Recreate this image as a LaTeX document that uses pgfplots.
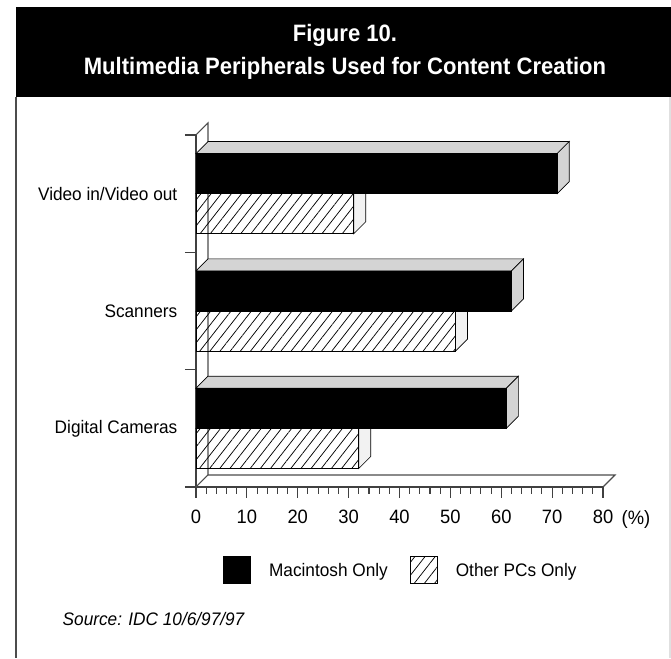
\documentclass[border=0pt]{standalone}
\usepackage{fontspec}
\setmainfont{Liberation Sans}
\newfontfamily\titlefont[FakeStretch=0.93]{Liberation Sans}
\newfontfamily\labelfont[FakeStretch=0.95]{Liberation Sans}
\usepackage{pgfplots}
\pgfplotsset{compat=1.18}
\usepackage{pgfplotstable}
\usetikzlibrary{patterns.meta}

% row = category position (0 = bottom)
\pgfplotstableread{
row mac other
0 61 32
1 62 51
2 71 31
}\datatable

\newcommand\lbl{\fontsize{13.6}{16}\labelfont}

% 3D top and side faces of one bar: value, top, bottom, fill
\newcommand\barfaces[4]{%
  \fill[#4, draw=black, line width=0.5pt] (axis cs:0,#2) -- (axis cs:#1,#2)
    -- ([shift={(9pt,9pt)}]axis cs:#1,#2) -- ([shift={(9pt,9pt)}]axis cs:0,#2) -- cycle;
  \fill[#4, draw=black, line width=0.5pt] (axis cs:#1,#2) -- ([shift={(9pt,9pt)}]axis cs:#1,#2)
    -- ([shift={(9pt,9pt)}]axis cs:#1,#3) -- (axis cs:#1,#3) -- cycle;
}

\begin{document}
\begin{tikzpicture}
% page frame, coordinates in pixels of the 671x658 figure
\begin{scope}[x=0.75pt,y=0.75pt]
\path (0,0) rectangle (671,658);
\fill[black] (16,561) rectangle (671,651);
\node[anchor=base, text=white, font={\fontsize{17.8}{20}\titlefont\bfseries}] at (345,616) {Figure 10.};
\node[anchor=base, text=white, font={\fontsize{17.8}{20}\titlefont\bfseries}] at (345,583) {Multimedia Peripherals Used for Content Creation};
\draw[black!70, line width=1.2pt] (16,561) -- (16,0);
\draw[black!12, line width=0.8pt] (670,561) -- (670,0);
\node[anchor=base west, font=\fontsize{14.5}{16}\labelfont] at (617,133) {(\%)};
\node[anchor=base west, font={\lbl\itshape}] at (58,32) {Source: IDC 10/6/97/97};
\end{scope}

\begin{axis}[
  at={(147pt,128.25pt)}, anchor=south west, scale only axis,
  width=305.25pt, height=264pt,
  xmin=0, xmax=80, ymin=-0.5, ymax=2.5,
  axis lines*=left,
  axis line style={black!75, line width=1pt},
  xtick={0,10,...,80}, minor x tick num=4,
  tick align=outside,
  major tick length=8.25pt, minor tick length=5.25pt,
  ytick={-0.5,0.5,1.5,2.5}, yticklabels={},
  extra y ticks={0,1,2},
  extra y tick labels={Digital Cameras,Scanners,Video in/Video out},
  extra y tick style={major tick length=0pt, yticklabel style={xshift=-10.5pt}},
  tick style={black!75, line width=0.8pt},
  ticklabel style={font=\lbl},
  xticklabel style={font=\fontsize{14.5}{16}\labelfont, yshift=-5.5pt},
  /pgf/number format/assume math mode=true,
  clip=false,
  legend style={at={(rel axis cs:0.066,-0.236)}, anchor=west, draw=none, fill=none,
    inner sep=0pt, legend columns=2, font=\lbl,
    /tikz/every odd column/.append style={column sep=12pt},
    /tikz/every even column/.append style={column sep=14.5pt}},
  legend image code/.code={\draw[#1, draw=black] (0pt,-9.5pt) rectangle (20pt,10.5pt);},
]
% back wall and floor
\draw[black!70, line width=0.8pt] (rel axis cs:0,1) -- ([shift={(9pt,9pt)}]rel axis cs:0,1)
  -- ([shift={(9pt,9pt)}]rel axis cs:0,0) -- ([shift={(9pt,9pt)}]rel axis cs:1,0) -- (rel axis cs:1,0);
\draw[black!70, line width=0.8pt] (rel axis cs:0,0) -- ([shift={(9pt,9pt)}]rel axis cs:0,0);

\pgfplotsinvokeforeach{0,1,2}{
  \pgfplotstablegetelem{#1}{row}\of\datatable \let\vr\pgfplotsretval
  \pgfplotstablegetelem{#1}{mac}\of\datatable \let\vm\pgfplotsretval
  \pgfplotstablegetelem{#1}{other}\of\datatable \let\vo\pgfplotsretval
  \pgfmathsetmacro\ct{\vr+0.342}
  \pgfmathsetmacro\cb{\vr-0.342}
  \edef\tmp{\noexpand\barfaces{\vo}{\vr}{\cb}{black!5}\noexpand\barfaces{\vm}{\ct}{\vr}{black!17}}
  \tmp
}

\addplot[xbar, bar width=0.342, bar shift=0.171, fill=black, draw=black, line width=0.5pt]
  table[x=mac, y=row] {\datatable};
\addplot[xbar, bar width=0.342, bar shift=-0.171, draw=black, line width=0.5pt,
  pattern={Lines[angle=52,distance=6pt,line width=0.55pt]}]
  table[x=other, y=row] {\datatable};
\legend{Macintosh Only,Other PCs Only}
\end{axis}
\end{tikzpicture}
\end{document}
